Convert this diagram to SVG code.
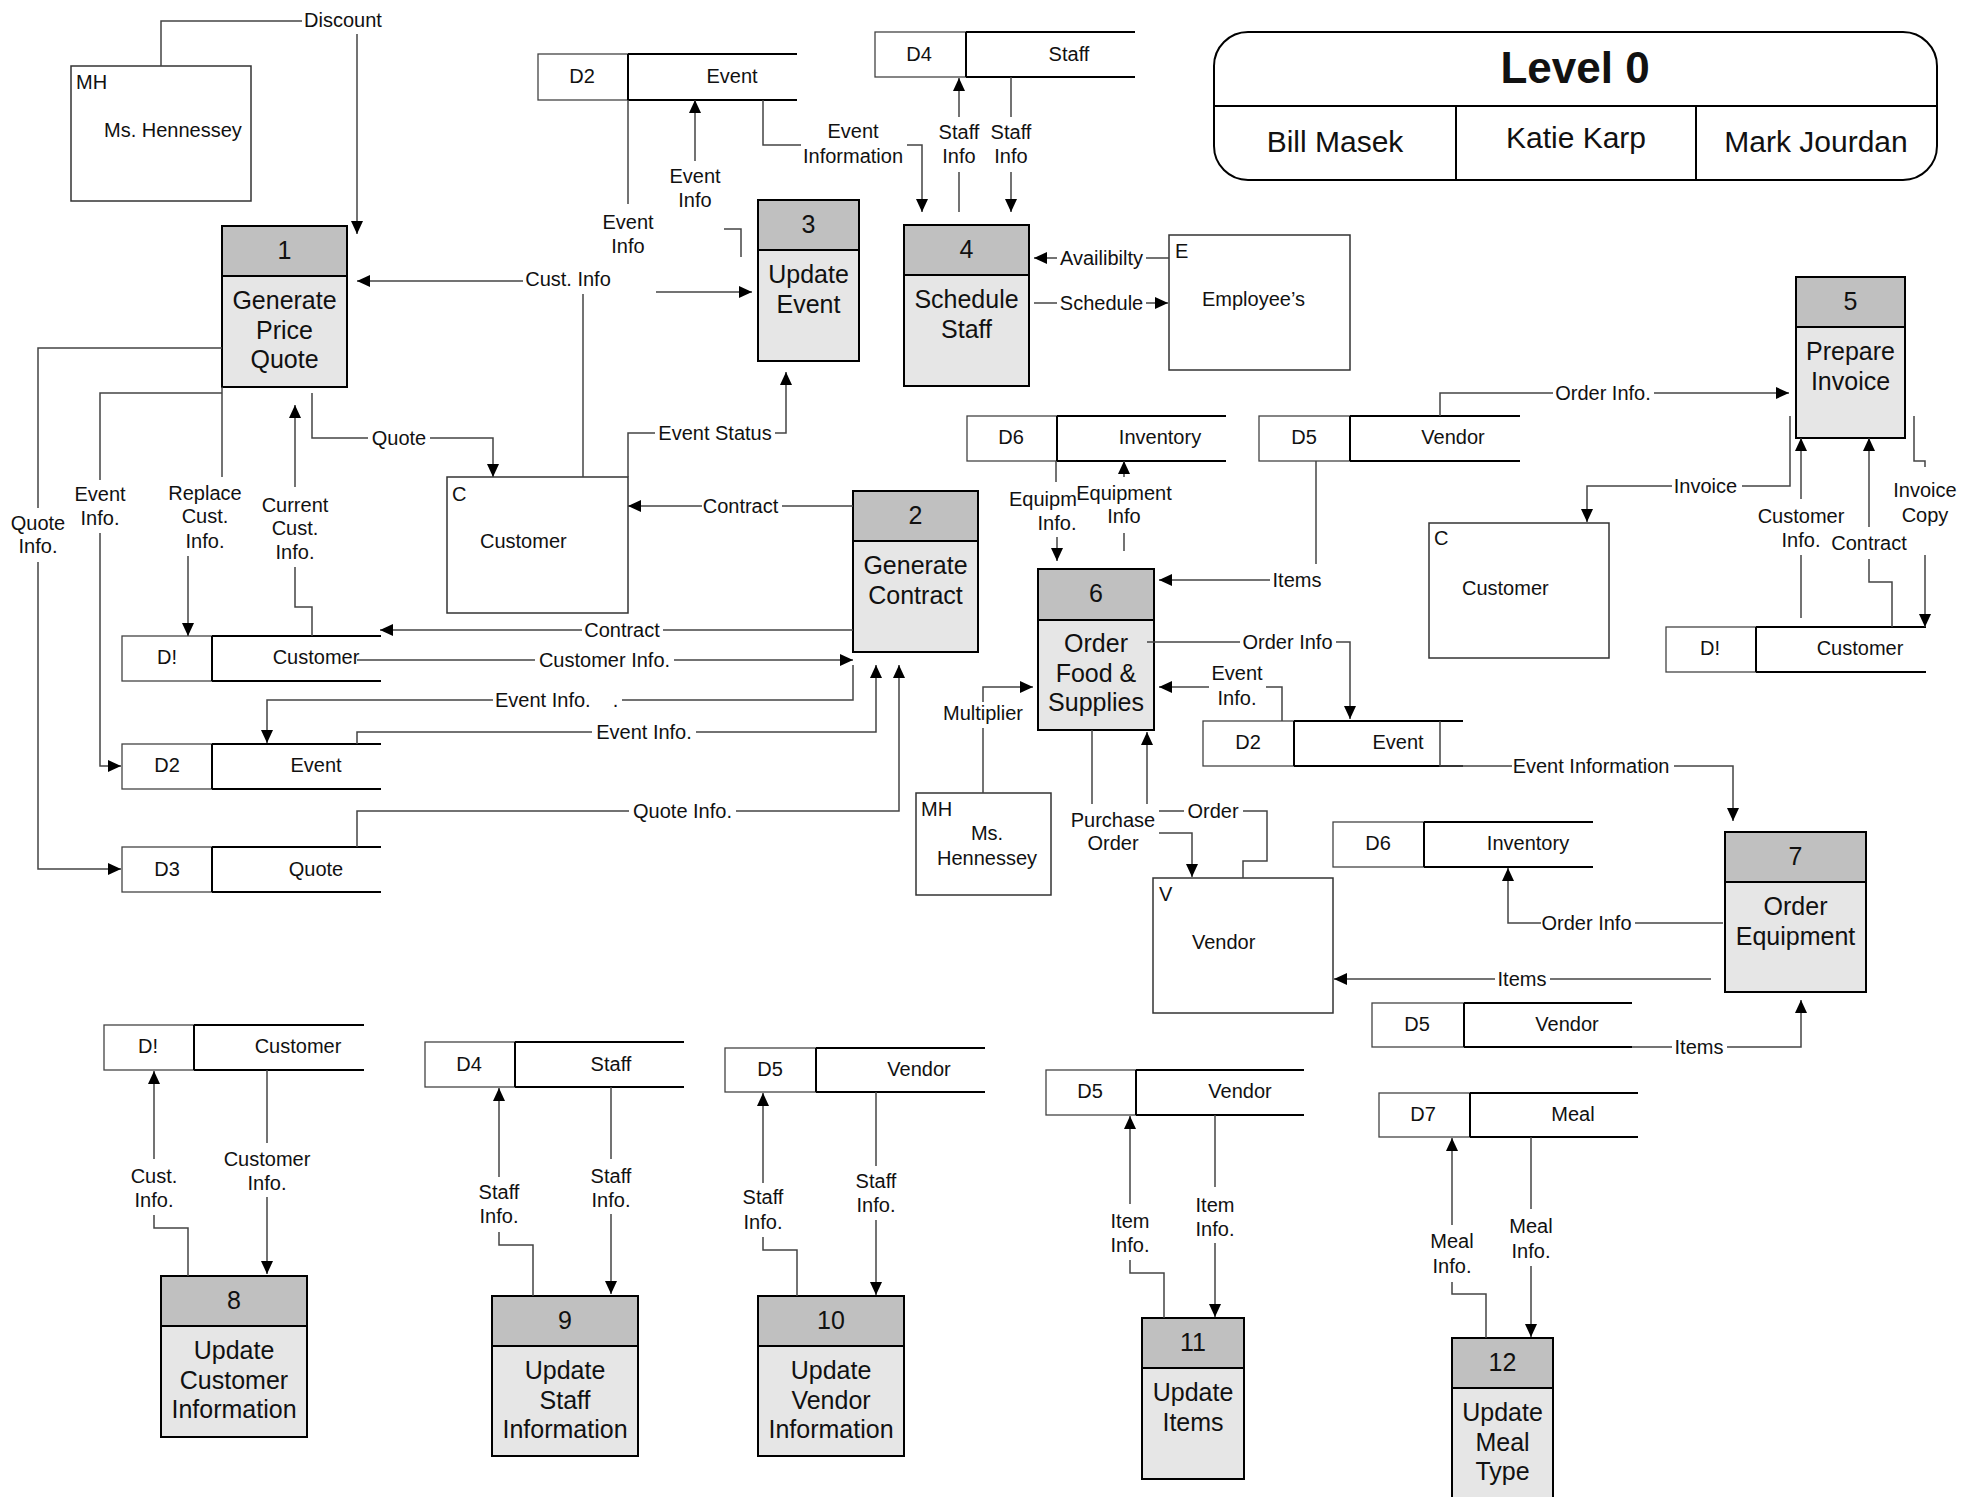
<svg xmlns="http://www.w3.org/2000/svg" width="1961" height="1497" viewBox="0 0 1961 1497">
<defs>
  <marker id="ah" markerUnits="userSpaceOnUse" markerWidth="13" markerHeight="12" refX="13" refY="6" orient="auto">
    <path d="M0,0 L13,6 L0,12 Z" fill="#000"/>
  </marker>
  <style>
    text { font-family: "Liberation Sans", Arial, sans-serif; fill: #111; }
    .lbl { font-size: 20px; text-anchor: middle; }
    .lbs { font-size: 20px; }
    .pt { font-size: 25px; text-anchor: middle; }
    .ph { fill: #c0c0c0; stroke: #000; stroke-width: 2; }
    .pb { fill: #e6e6e6; stroke: #000; stroke-width: 2; }
    .ent { fill: #fff; stroke: #333; stroke-width: 1.5; }
    .sid { fill: #fff; stroke: #444; stroke-width: 1.3; }
    .sln { fill: none; stroke: #000; stroke-width: 2; }
    .flow { fill: none; stroke: #444; stroke-width: 1.5; }
    .arr { marker-end: url(#ah); }
    .ttl { fill: #fff; stroke: #000; stroke-width: 2; }
  </style>
</defs>
<rect width="1961" height="1497" fill="#fff"/>

<!-- title block -->
<g id="title">
  <rect class="ttl" x="1214" y="32" width="723" height="148" rx="34" ry="34"/>
  <path class="sln" d="M1214,106 H1937 M1456,106 V180 M1696,106 V180"/>
  <text x="1575" y="83" style="font-size:44px;font-weight:bold;text-anchor:middle">Level 0</text>
  <text x="1335" y="152" style="font-size:30px;text-anchor:middle">Bill Masek</text>
  <text x="1576" y="148" style="font-size:30px;text-anchor:middle">Katie Karp</text>
  <text x="1816" y="152" style="font-size:30px;text-anchor:middle">Mark Jourdan</text>
</g>

<!-- external entities -->
<g id="ent-mh-top">
  <rect class="ent" x="71" y="66" width="180" height="135"/>
  <text class="lbs" x="76" y="89">MH</text>
  <text class="lbs" x="104" y="137">Ms. Hennessey</text>
</g>
<g id="ent-customer-mid">
  <rect class="ent" x="447" y="477" width="181" height="136"/>
  <text class="lbs" x="452" y="501">C</text>
  <text class="lbs" x="480" y="548">Customer</text>
</g>
<g id="ent-employees">
  <rect class="ent" x="1169" y="235" width="181" height="135"/>
  <text class="lbs" x="1175" y="258">E</text>
  <text class="lbs" x="1202" y="306">Employee’s</text>
</g>
<g id="ent-customer-right">
  <rect class="ent" x="1429" y="523" width="180" height="135"/>
  <text class="lbs" x="1434" y="545">C</text>
  <text class="lbs" x="1462" y="595">Customer</text>
</g>
<g id="ent-mh-mid">
  <rect class="ent" x="916" y="793" width="135" height="102"/>
  <text class="lbs" x="921" y="816">MH</text>
  <text class="lbl" x="987" y="840">Ms.</text>
  <text class="lbl" x="987" y="865">Hennessey</text>
</g>
<g id="ent-vendor">
  <rect class="ent" x="1153" y="878" width="180" height="135"/>
  <text class="lbs" x="1159" y="901">V</text>
  <text class="lbs" x="1192" y="949">Vendor</text>
</g>

<!-- data stores -->
<g id="store-d2-top">
  <rect class="sid" x="538" y="54" width="90" height="46"/>
  <path class="sln" d="M628,54 H797 M628,100 H797 M628,54 V100"/>
  <text class="lbl" x="582" y="83">D2</text><text class="lbl" x="732" y="83">Event</text>
</g>
<g id="store-d4-top">
  <rect class="sid" x="875" y="32" width="91" height="45"/>
  <path class="sln" d="M966,32 H1135 M966,77 H1135 M966,32 V77"/>
  <text class="lbl" x="919" y="61">D4</text><text class="lbl" x="1069" y="61">Staff</text>
</g>
<g id="store-d6-top">
  <rect class="sid" x="967" y="416" width="90" height="45"/>
  <path class="sln" d="M1057,416 H1226 M1057,461 H1226 M1057,416 V461"/>
  <text class="lbl" x="1011" y="444">D6</text><text class="lbl" x="1160" y="444">Inventory</text>
</g>
<g id="store-d5-top">
  <rect class="sid" x="1259" y="416" width="91" height="45"/>
  <path class="sln" d="M1350,416 H1520 M1350,461 H1520 M1350,416 V461"/>
  <text class="lbl" x="1304" y="444">D5</text><text class="lbl" x="1453" y="444">Vendor</text>
</g>
<g id="store-d1-right">
  <rect class="sid" x="1666" y="627" width="90" height="45"/>
  <path class="sln" d="M1756,627 H1926 M1756,672 H1926 M1756,627 V672"/>
  <text class="lbl" x="1710" y="655">D!</text><text class="lbl" x="1860" y="655">Customer</text>
</g>
<g id="store-d1-left">
  <rect class="sid" x="122" y="636" width="90" height="45"/>
  <path class="sln" d="M212,636 H381 M212,681 H381 M212,636 V681"/>
  <text class="lbl" x="167" y="664">D!</text><text class="lbl" x="316" y="664">Customer</text>
</g>
<g id="store-d2-left">
  <rect class="sid" x="122" y="744" width="90" height="45"/>
  <path class="sln" d="M212,744 H381 M212,789 H381 M212,744 V789"/>
  <text class="lbl" x="167" y="772">D2</text><text class="lbl" x="316" y="772">Event</text>
</g>
<g id="store-d3">
  <rect class="sid" x="122" y="847" width="90" height="45"/>
  <path class="sln" d="M212,847 H381 M212,892 H381 M212,847 V892"/>
  <text class="lbl" x="167" y="876">D3</text><text class="lbl" x="316" y="876">Quote</text>
</g>
<g id="store-d2-right">
  <rect class="sid" x="1203" y="721" width="91" height="45"/>
  <path class="sln" d="M1294,721 H1463 M1294,766 H1463 M1294,721 V766"/>
  <text class="lbl" x="1248" y="749">D2</text><text class="lbl" x="1398" y="749">Event</text>
</g>
<g id="store-d6-mid">
  <rect class="sid" x="1333" y="822" width="91" height="45"/>
  <path class="sln" d="M1424,822 H1593 M1424,867 H1593 M1424,822 V867"/>
  <text class="lbl" x="1378" y="850">D6</text><text class="lbl" x="1528" y="850">Inventory</text>
</g>
<g id="store-d5-right">
  <rect class="sid" x="1372" y="1003" width="92" height="44"/>
  <path class="sln" d="M1464,1003 H1632 M1464,1047 H1632 M1464,1003 V1047"/>
  <text class="lbl" x="1417" y="1031">D5</text><text class="lbl" x="1567" y="1031">Vendor</text>
</g>
<g id="store-d1-bottom">
  <rect class="sid" x="104" y="1025" width="90" height="45"/>
  <path class="sln" d="M194,1025 H364 M194,1070 H364 M194,1025 V1070"/>
  <text class="lbl" x="148" y="1053">D!</text><text class="lbl" x="298" y="1053">Customer</text>
</g>
<g id="store-d4-bottom">
  <rect class="sid" x="425" y="1042" width="90" height="45"/>
  <path class="sln" d="M515,1042 H684 M515,1087 H684 M515,1042 V1087"/>
  <text class="lbl" x="469" y="1071">D4</text><text class="lbl" x="611" y="1071">Staff</text>
</g>
<g id="store-d5-bottom">
  <rect class="sid" x="725" y="1048" width="91" height="44"/>
  <path class="sln" d="M816,1048 H985 M816,1092 H985 M816,1048 V1092"/>
  <text class="lbl" x="770" y="1076">D5</text><text class="lbl" x="919" y="1076">Vendor</text>
</g>
<g id="store-d5-items">
  <rect class="sid" x="1046" y="1070" width="90" height="45"/>
  <path class="sln" d="M1136,1070 H1304 M1136,1115 H1304 M1136,1070 V1115"/>
  <text class="lbl" x="1090" y="1098">D5</text><text class="lbl" x="1240" y="1098">Vendor</text>
</g>
<g id="store-d7">
  <rect class="sid" x="1379" y="1093" width="91" height="44"/>
  <path class="sln" d="M1470,1093 H1638 M1470,1137 H1638 M1470,1093 V1137"/>
  <text class="lbl" x="1423" y="1121">D7</text><text class="lbl" x="1573" y="1121">Meal</text>
</g>

<!-- processes -->
<g id="proc-1">
  <rect class="pb" x="222" y="226" width="125" height="161"/><rect class="ph" x="222" y="226" width="125" height="50"/>
  <text class="pt" x="284.5" y="259">1</text>
  <text class="pt"><tspan x="284.5" y="309">Generate</tspan><tspan x="284.5" y="338.5">Price</tspan><tspan x="284.5" y="368">Quote</tspan></text>
</g>
<g id="proc-2">
  <rect class="pb" x="853" y="491" width="125" height="161"/><rect class="ph" x="853" y="491" width="125" height="50"/>
  <text class="pt" x="915.5" y="524">2</text>
  <text class="pt"><tspan x="915.5" y="574">Generate</tspan><tspan x="915.5" y="603.5">Contract</tspan></text>
</g>
<g id="proc-3">
  <rect class="pb" x="758" y="200" width="101" height="161"/><rect class="ph" x="758" y="200" width="101" height="50"/>
  <text class="pt" x="808.5" y="233">3</text>
  <text class="pt"><tspan x="808.5" y="283">Update</tspan><tspan x="808.5" y="312.5">Event</tspan></text>
</g>
<g id="proc-4">
  <rect class="pb" x="904" y="225" width="125" height="161"/><rect class="ph" x="904" y="225" width="125" height="50"/>
  <text class="pt" x="966.5" y="258">4</text>
  <text class="pt"><tspan x="966.5" y="308">Schedule</tspan><tspan x="966.5" y="337.5">Staff</tspan></text>
</g>
<g id="proc-5">
  <rect class="pb" x="1796" y="277" width="109" height="161"/><rect class="ph" x="1796" y="277" width="109" height="50"/>
  <text class="pt" x="1850.5" y="310">5</text>
  <text class="pt"><tspan x="1850.5" y="360">Prepare</tspan><tspan x="1850.5" y="389.5">Invoice</tspan></text>
</g>
<g id="proc-6">
  <rect class="pb" x="1038" y="569" width="116" height="161"/><rect class="ph" x="1038" y="569" width="116" height="51"/>
  <text class="pt" x="1096" y="602">6</text>
  <text class="pt"><tspan x="1096" y="652">Order</tspan><tspan x="1096" y="681.5">Food &amp;</tspan><tspan x="1096" y="711">Supplies</tspan></text>
</g>
<g id="proc-7">
  <rect class="pb" x="1725" y="832" width="141" height="160"/><rect class="ph" x="1725" y="832" width="141" height="50"/>
  <text class="pt" x="1795.5" y="865">7</text>
  <text class="pt"><tspan x="1795.5" y="915">Order</tspan><tspan x="1795.5" y="944.5">Equipment</tspan></text>
</g>
<g id="proc-8">
  <rect class="pb" x="161" y="1276" width="146" height="161"/><rect class="ph" x="161" y="1276" width="146" height="50"/>
  <text class="pt" x="234" y="1309">8</text>
  <text class="pt"><tspan x="234" y="1359">Update</tspan><tspan x="234" y="1388.5">Customer</tspan><tspan x="234" y="1418">Information</tspan></text>
</g>
<g id="proc-9">
  <rect class="pb" x="492" y="1296" width="146" height="160"/><rect class="ph" x="492" y="1296" width="146" height="50"/>
  <text class="pt" x="565" y="1329">9</text>
  <text class="pt"><tspan x="565" y="1379">Update</tspan><tspan x="565" y="1408.5">Staff</tspan><tspan x="565" y="1438">Information</tspan></text>
</g>
<g id="proc-10">
  <rect class="pb" x="758" y="1296" width="146" height="160"/><rect class="ph" x="758" y="1296" width="146" height="50"/>
  <text class="pt" x="831" y="1329">10</text>
  <text class="pt"><tspan x="831" y="1379">Update</tspan><tspan x="831" y="1408.5">Vendor</tspan><tspan x="831" y="1438">Information</tspan></text>
</g>
<g id="proc-11">
  <rect class="pb" x="1142" y="1318" width="102" height="161"/><rect class="ph" x="1142" y="1318" width="102" height="50"/>
  <text class="pt" x="1193" y="1351">11</text>
  <text class="pt"><tspan x="1193" y="1401">Update</tspan><tspan x="1193" y="1430.5">Items</tspan></text>
</g>
<g id="proc-12">
  <rect class="pb" x="1452" y="1338" width="101" height="164"/><rect class="ph" x="1452" y="1338" width="101" height="50"/>
  <text class="pt" x="1502.5" y="1371">12</text>
  <text class="pt"><tspan x="1502.5" y="1421">Update</tspan><tspan x="1502.5" y="1450.5">Meal</tspan><tspan x="1502.5" y="1480">Type</tspan></text>
</g>

<!-- data flows -->
<g id="connectors">
  <!-- upper left -->
  <path class="flow" d="M161,66 V21 H302"/><path class="flow arr" d="M357,34 V234"/>
  <text class="lbl" x="343" y="27">Discount</text>

  <path class="flow" d="M583,477 V294"/><path class="flow arr" d="M523,281 H357"/>
  <text class="lbl" x="568" y="286">Cust. Info</text>

  <path class="flow" d="M628,100 V204"/><path class="flow arr" d="M656,292 H752"/>
  <text class="lbl"><tspan x="628" y="229">Event</tspan><tspan x="628" y="253">Info</tspan></text>

  <path class="flow" d="M741,257 V229 H724"/><path class="flow arr" d="M695,161 V100"/>
  <text class="lbl"><tspan x="695" y="183">Event</tspan><tspan x="695" y="207">Info</tspan></text>

  <path class="flow" d="M763,100 V145 H801"/><path class="flow arr" d="M907,145 H922 V212"/>
  <text class="lbl"><tspan x="853" y="138">Event</tspan><tspan x="853" y="163">Information</tspan></text>

  <path class="flow" d="M959,212 V172"/><path class="flow arr" d="M959,117 V78"/>
  <text class="lbl"><tspan x="959" y="139">Staff</tspan><tspan x="959" y="163">Info</tspan></text>

  <path class="flow" d="M1011,77 V117"/><path class="flow arr" d="M1011,172 V212"/>
  <text class="lbl"><tspan x="1011" y="139">Staff</tspan><tspan x="1011" y="163">Info</tspan></text>

  <path class="flow" d="M1169,258 H1146"/><path class="flow arr" d="M1057,258 H1034"/>
  <text class="lbl" x="1101.5" y="265">Availibilty</text>

  <path class="flow" d="M1034,303 H1057"/><path class="flow arr" d="M1146,303 H1168"/>
  <text class="lbl" x="1101.5" y="310">Schedule</text>

  <path class="flow" d="M628,477 V433 H655"/><path class="flow arr" d="M775,433 H786 V372"/>
  <text class="lbl" x="715" y="440">Event Status</text>

  <path class="flow" d="M312,393 V438 H368"/><path class="flow arr" d="M430,438 H493 V477"/>
  <text class="lbl" x="399" y="445">Quote</text>

  <!-- process 1 to stores -->
  <path class="flow" d="M222,348 H38 V508"/><path class="flow arr" d="M38,562 V869 H121"/>
  <text class="lbl"><tspan x="38" y="530">Quote</tspan><tspan x="38" y="553">Info.</tspan></text>

  <path class="flow" d="M222,393 H100 V480"/><path class="flow arr" d="M100,533 V766 H121"/>
  <text class="lbl"><tspan x="100" y="501">Event</tspan><tspan x="100" y="525">Info.</tspan></text>

  <path class="flow" d="M222,387 V477"/><path class="flow arr" d="M188,556 V636"/>
  <text class="lbl"><tspan x="205" y="500">Replace</tspan><tspan x="205" y="523">Cust.</tspan><tspan x="205" y="548">Info.</tspan></text>

  <path class="flow" d="M312,636 V607 H295 V567"/><path class="flow arr" d="M295,487 V405"/>
  <text class="lbl"><tspan x="295" y="512">Current</tspan><tspan x="295" y="535">Cust.</tspan><tspan x="295" y="559">Info.</tspan></text>

  <!-- process 2 -->
  <path class="flow" d="M853,506 H782"/><path class="flow arr" d="M702,506 H628"/>
  <text class="lbl" x="740.5" y="513">Contract</text>

  <path class="flow" d="M853,630 H663"/><path class="flow arr" d="M582,630 H380"/>
  <text class="lbl" x="622" y="637">Contract</text>

  <path class="flow" d="M357,660 H535"/><path class="flow arr" d="M674,660 H853"/>
  <text class="lbl" x="604.5" y="667">Customer Info.</text>

  <path class="flow" d="M853,665 V700 H622"/><path class="flow arr" d="M493,700 H267 V743"/>
  <text class="lbs" x="495" y="707" xml:space="preserve">Event Info.    .</text>

  <path class="flow" d="M357,744 V732 H592"/><path class="flow arr" d="M696,732 H876 V665"/>
  <text class="lbl" x="644" y="739">Event Info.</text>

  <path class="flow" d="M357,847 V811 H629"/><path class="flow arr" d="M736,811 H899 V665"/>
  <text class="lbl" x="682.5" y="818">Quote Info.</text>

  <!-- process 6 -->
  <path class="flow" d="M983,793 V728"/><path class="flow arr" d="M983,702 V687 H1033"/>
  <text class="lbl" x="983" y="720">Multiplier</text>

  <path class="flow" d="M1056,461 V482"/><path class="flow arr" d="M1057,537 V561"/>
  <text class="lbs" x="1009" y="506">Equipm</text><text class="lbl" x="1057" y="530">Info.</text>

  <path class="flow" d="M1124,551 V533"/><path class="flow arr" d="M1124,477 V461"/>
  <text class="lbl"><tspan x="1124" y="500">Equipment</tspan><tspan x="1124" y="523">Info</tspan></text>

  <path class="flow" d="M1316,461 V564"/><path class="flow arr" d="M1270,580 H1159"/>
  <text class="lbl" x="1297" y="587">Items</text>

  <path class="flow" d="M1147,642 H1240"/><path class="flow arr" d="M1336,642 H1350 V719"/>
  <text class="lbl" x="1287.5" y="649">Order Info</text>

  <path class="flow" d="M1282,721 V687 H1266"/><path class="flow arr" d="M1209,687 H1159"/>
  <text class="lbl"><tspan x="1237" y="680">Event</tspan><tspan x="1237" y="705">Info.</tspan></text>

  <path class="flow" d="M1092,730 V804"/><path class="flow arr" d="M1159,833 H1192 V877"/>
  <text class="lbl"><tspan x="1113" y="827">Purchase</tspan><tspan x="1113" y="850">Order</tspan></text>

  <path class="flow" d="M1243,878 V861 H1267 V811 H1243 M1184,811 H1159"/><path class="flow arr" d="M1147,804 V732"/>
  <text class="lbl" x="1213" y="818">Order</text>

  <!-- process 7 -->
  <path class="flow" d="M1723,923 H1635"/><path class="flow arr" d="M1541,923 H1508 V868"/>
  <text class="lbl" x="1586.5" y="930">Order Info</text>

  <path class="flow" d="M1711,979 H1550"/><path class="flow arr" d="M1495,979 H1334"/>
  <text class="lbl" x="1522" y="986">Items</text>

  <path class="flow" d="M1632,1047 H1672"/><path class="flow arr" d="M1727,1047 H1801 V1000"/>
  <text class="lbl" x="1699" y="1054">Items</text>

  <path class="flow" d="M1440,721 V766 H1512"/><path class="flow arr" d="M1674,766 H1733 V821"/>
  <text class="lbl" x="1591" y="773">Event Information</text>

  <!-- process 5 -->
  <path class="flow" d="M1440,416 V393 H1553"/><path class="flow arr" d="M1654,393 H1789"/>
  <text class="lbl" x="1603" y="400">Order Info.</text>

  <path class="flow" d="M1790,416 V486 H1742"/><path class="flow arr" d="M1672,486 H1587 V522"/>
  <text class="lbl" x="1705.5" y="493">Invoice</text>

  <path class="flow" d="M1801,618 V555"/><path class="flow arr" d="M1801,499 V438"/>
  <text class="lbl"><tspan x="1801" y="523">Customer</tspan><tspan x="1801" y="547">Info.</tspan></text>

  <path class="flow" d="M1892,627 V582 H1869 V559"/><path class="flow arr" d="M1869,527 V438"/>
  <text class="lbl" x="1869" y="550">Contract</text>

  <path class="flow" d="M1914,416 V461 H1925 V467"/><path class="flow arr" d="M1925,555 V627"/>
  <text class="lbl"><tspan x="1925" y="497">Invoice</tspan><tspan x="1925" y="522">Copy</tspan></text>

  <!-- maintenance processes -->
  <path class="flow" d="M188,1276 V1228 H154 V1215"/><path class="flow arr" d="M154,1159 V1071"/>
  <text class="lbl"><tspan x="154" y="1183">Cust.</tspan><tspan x="154" y="1207">Info.</tspan></text>

  <path class="flow" d="M267,1070 V1143"/><path class="flow arr" d="M267,1197 V1274"/>
  <text class="lbl"><tspan x="267" y="1166">Customer</tspan><tspan x="267" y="1190">Info.</tspan></text>

  <path class="flow" d="M533,1296 V1245 H499 V1232"/><path class="flow arr" d="M499,1177 V1088"/>
  <text class="lbl"><tspan x="499" y="1199">Staff</tspan><tspan x="499" y="1223">Info.</tspan></text>

  <path class="flow" d="M611,1087 V1159"/><path class="flow arr" d="M611,1214 V1294"/>
  <text class="lbl"><tspan x="611" y="1183">Staff</tspan><tspan x="611" y="1207">Info.</tspan></text>

  <path class="flow" d="M797,1296 V1250 H763 V1237"/><path class="flow arr" d="M763,1183 V1093"/>
  <text class="lbl"><tspan x="763" y="1204">Staff</tspan><tspan x="763" y="1229">Info.</tspan></text>

  <path class="flow" d="M876,1092 V1166"/><path class="flow arr" d="M876,1220 V1295"/>
  <text class="lbl"><tspan x="876" y="1188">Staff</tspan><tspan x="876" y="1212">Info.</tspan></text>

  <path class="flow" d="M1164,1318 V1273 H1130 V1260"/><path class="flow arr" d="M1130,1204 V1116"/>
  <text class="lbl"><tspan x="1130" y="1228">Item</tspan><tspan x="1130" y="1252">Info.</tspan></text>

  <path class="flow" d="M1215,1115 V1187"/><path class="flow arr" d="M1215,1243 V1317"/>
  <text class="lbl"><tspan x="1215" y="1212">Item</tspan><tspan x="1215" y="1236">Info.</tspan></text>

  <path class="flow" d="M1486,1338 V1294 H1452 V1282"/><path class="flow arr" d="M1452,1225 V1138"/>
  <text class="lbl"><tspan x="1452" y="1248">Meal</tspan><tspan x="1452" y="1273">Info.</tspan></text>

  <path class="flow" d="M1531,1137 V1209"/><path class="flow arr" d="M1531,1266 V1337"/>
  <text class="lbl"><tspan x="1531" y="1233">Meal</tspan><tspan x="1531" y="1258">Info.</tspan></text>
</g>
</svg>
